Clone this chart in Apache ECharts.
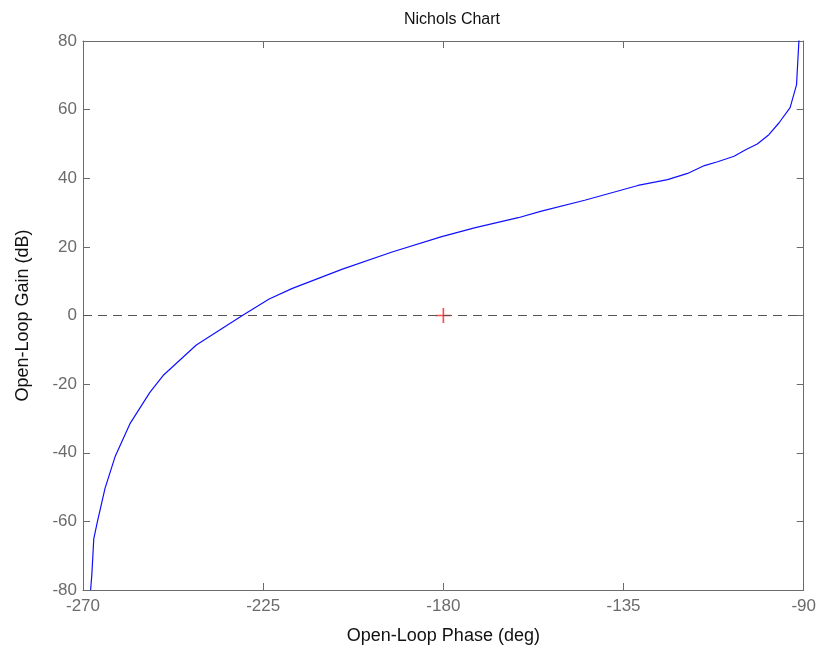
<!DOCTYPE html>
<html>
<head>
<meta charset="utf-8">
<script src="https://cdn.jsdelivr.net/npm/echarts@6/dist/echarts.min.js"></script>
<style>
  html, body { margin: 0; padding: 0; background: #fff; }
  #chart { width: 819px; height: 650px; }
</style>
</head>
<body>
<div id="chart"></div>
<script>
// Open-loop frequency response: phase (deg) vs gain (dB)
const phaseDeg = [-268.1, -267.8, -267.3, -266.4, -264.5, -262.0, -258.3, -253.3, -250.0, -241.7,
  -230.1, -223.5, -217.7, -205.2, -192.8, -180.4, -172.0, -161.3, -155.5, -144.7,
  -131.4, -124.0, -119.0, -114.8, -111.5, -107.4, -104.5, -101.6, -98.7, -96.2,
  -93.4, -91.8, -91.2, -91.0];
const gainDb = [-80.0, -75.6, -65.0, -60.1, -50.4, -41.2, -31.6, -22.4, -17.5, -8.6,
  0.1, 4.8, 7.9, 13.5, 18.5, 23.0, 25.6, 28.5, 30.4, 33.6,
  37.9, 39.6, 41.4, 43.7, 44.8, 46.4, 48.3, 50.0, 52.7, 56.1,
  60.6, 67.2, 80.0, 85.0];

// Critical point and 0 dB reference line
const criticalPoint = [-180, 0];
const zeroLine = [[-270, 0], [-90, 0]];

// Axis ranges and tick spacing
const xRange = [-270, -90], xStep = 45;
const yRange = [-80, 80], yStep = 20;

const axisGray = '#6b6b6b';
const font = '"Liberation Sans", Arial, Helvetica, sans-serif';

const chart = echarts.init(document.getElementById('chart'), null, { renderer: 'canvas' });

function xAxisDef(pos, showLabel) {
  return {
    type: 'value', position: pos, min: xRange[0], max: xRange[1], interval: xStep,
    axisLine: { show: true, onZero: false, lineStyle: { color: axisGray, width: 1 } },
    axisTick: { show: true, inside: true, length: 7, lineStyle: { color: axisGray } },
    axisLabel: { show: showLabel, color: axisGray, fontSize: 17, fontFamily: font, margin: 8 },
    splitLine: { show: false },
    name: showLabel ? 'Open-Loop Phase (deg)' : '',
    nameLocation: 'middle', nameGap: 37,
    nameTextStyle: { color: '#111', fontSize: 18, fontFamily: font }
  };
}
function yAxisDef(pos, showLabel) {
  return {
    type: 'value', position: pos, min: yRange[0], max: yRange[1], interval: yStep,
    axisLine: { show: true, onZero: false, lineStyle: { color: axisGray, width: 1 } },
    axisTick: { show: true, inside: true, length: 7, lineStyle: { color: axisGray } },
    axisLabel: { show: showLabel, color: axisGray, fontSize: 17, fontFamily: font, margin: 6 },
    splitLine: { show: false },
    name: showLabel ? 'Open-Loop Gain (dB)' : '',
    nameLocation: 'middle', nameGap: 51,
    nameTextStyle: { color: '#111', fontSize: 18, fontFamily: font }
  };
}

chart.setOption({
  animation: false,
  backgroundColor: '#fff',
  title: {
    text: 'Nichols Chart', left: 447, top: 7, textAlign: 'center',
    textStyle: { color: '#111', fontSize: 16, fontWeight: 'normal',
      fontFamily: '"Liberation Sans Narrow", "Liberation Sans", Arial, sans-serif' }
  },
  grid: { left: 83, right: 11, top: 41, bottom: 58, containLabel: false },
  xAxis: [xAxisDef('bottom', true), xAxisDef('top', false)],
  yAxis: [yAxisDef('left', true), yAxisDef('right', false)],
  series: [
    {
      type: 'line', xAxisIndex: 0, yAxisIndex: 0,
      data: zeroLine, showSymbol: false, symbol: 'none', silent: true,
      lineStyle: { color: '#555', width: 1, type: [9, 6] }
    },
    {
      type: 'line', xAxisIndex: 0, yAxisIndex: 0,
      data: phaseDeg.map((p, i) => [p, gainDb[i]]),
      showSymbol: false, symbol: 'none', clip: true,
      lineStyle: { color: '#1010ff', width: 1.2 }
    },
    {
      type: 'scatter', xAxisIndex: 0, yAxisIndex: 0,
      data: [criticalPoint],
      symbol: 'path://M0,4.45h10v1.1h-10z M4.45,0h1.1v10h-1.1z',
      symbolSize: 15,
      itemStyle: { color: '#ff2020' }
    }
  ]
});
</script>
</body>
</html>
